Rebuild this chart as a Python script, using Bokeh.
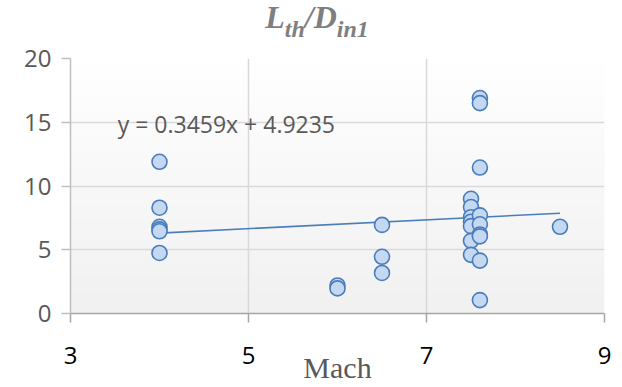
import numpy as np
from bokeh.plotting import figure
from bokeh.models import Range1d, FixedTicker, Label, Div
from bokeh.layouts import column
from bokeh.embed import file_html
from bokeh.resources import INLINE

# ---- data ----
mach = [4, 4, 4, 4, 4, 4,
        6, 6,
        6.5, 6.5, 6.5,
        7.5, 7.5, 7.5, 7.5, 7.5, 7.5, 7.5,
        7.6, 7.6, 7.6, 7.6, 7.6, 7.6, 7.6, 7.6, 7.6,
        8.5]
lth_din1 = [11.9, 8.3, 6.8, 6.6, 6.45, 4.75,
            2.2, 1.97,
            6.95, 4.45, 3.18,
            9.0, 8.35, 7.55, 7.2, 6.85, 5.7, 4.6,
            16.9, 16.5, 11.45, 7.7, 7.0, 6.2, 6.05, 4.15, 1.05,
            6.8]
slope = 0.3459
intercept = 4.9235
x_ticks = [3, 5, 7, 9]
y_ticks = [0, 5, 10, 15, 20]
title_main = ["L", "/D"]
title_sub = ["th", "in1"]
x_title = "Mach"

W = 614
TITLE_H = 40
FIG_H = 347

title_html = (
    '<div style="width:%dpx;text-align:center;font-family:\'Liberation Serif\';'
    'font-weight:bold;font-style:italic;color:#7f7f7f;font-size:32px;line-height:32px;'
    'padding-top:1px;padding-left:20px;white-space:nowrap;">'
    '%s<span style="font-size:24px;position:relative;top:9px;">%s</span>'
    '%s<span style="font-size:24px;position:relative;top:9px;">%s</span></div>'
    % (W, title_main[0], title_sub[0], title_main[1], title_sub[1])
)
title = Div(text=title_html, width=W, height=TITLE_H, margin=(0, 0, 0, 0))

p = figure(width=W, height=FIG_H, output_backend="svg", toolbar_location=None,
           x_range=Range1d(3, 9), y_range=Range1d(0, 20),
           min_border_left=70, min_border_right=10, min_border_top=18, min_border_bottom=74,
           margin=(0, 0, 0, 0))
p.outline_line_color = None
p.background_fill_color = "white"
p.border_fill_color = "white"

# subtle vertical gradient background of plot area
n = 64
shade = np.linspace(241, 255, n).astype(np.uint32)
img = np.zeros((n, 1), dtype=np.uint32)
view = img.view(dtype=np.uint8).reshape((n, 1, 4))
view[:, 0, 0] = shade
view[:, 0, 1] = shade
view[:, 0, 2] = shade
view[:, 0, 3] = 255
bg = p.image_rgba(image=[img], x=3, y=0, dw=6, dh=20)
bg.level = "image"

# grid
p.xgrid.ticker = FixedTicker(ticks=x_ticks)
p.ygrid.ticker = FixedTicker(ticks=y_ticks)
for g in (p.xgrid, p.ygrid):
    g.grid_line_color = "#d9d9d9"
    g.grid_line_width = 1.5

# axes
p.xaxis.ticker = FixedTicker(ticks=x_ticks)
p.yaxis.ticker = FixedTicker(ticks=y_ticks)
for ax in (p.xaxis, p.yaxis):
    ax.axis_line_width = 1.5
    ax.major_tick_line_width = 1.5
    ax.major_tick_out = 9
    ax.major_tick_in = 0
    ax.minor_tick_line_color = None
    ax.major_label_text_font = "Open Sans"
    ax.major_label_text_font_size = "24px"
p.xaxis.axis_line_color = "#a6a6a6"
p.xaxis.major_tick_line_color = "#a6a6a6"
p.yaxis.axis_line_color = "#bfbfbf"
p.yaxis.major_tick_line_color = "#bfbfbf"
p.yaxis.major_label_text_color = "#595959"
p.xaxis.major_label_text_color = "#000000"
p.yaxis.major_label_standoff = 10
p.xaxis.major_label_standoff = 24

p.xaxis.axis_label = x_title
p.xaxis.axis_label_text_font = "Liberation Serif"
p.xaxis.axis_label_text_font_style = "normal"
p.xaxis.axis_label_text_font_size = "30px"
p.xaxis.axis_label_text_color = "#595959"
p.xaxis.axis_label_standoff = -16

# trendline from the equation over the data's x-span
xl = np.array([min(mach), max(mach)])
p.line(xl, slope * xl + intercept, line_color="#4a7ebb", line_width=1.6)

# points
p.scatter(mach, lth_din1, marker="circle", size=15,
          fill_color="#c5d8f1", line_color="#4a7ebb", line_width=1.6)

# trendline equation (inside the plot area)
p.add_layout(Label(x=3.53, y=14.9, text="y = %.4fx + %.4f" % (slope, intercept),
                   text_font="Open Sans", text_font_size="23px", text_color="#595959",
                   text_baseline="middle", text_align="left"))

layout = column(title, p, spacing=0)
open("out.html", "w").write(file_html(layout, INLINE))
